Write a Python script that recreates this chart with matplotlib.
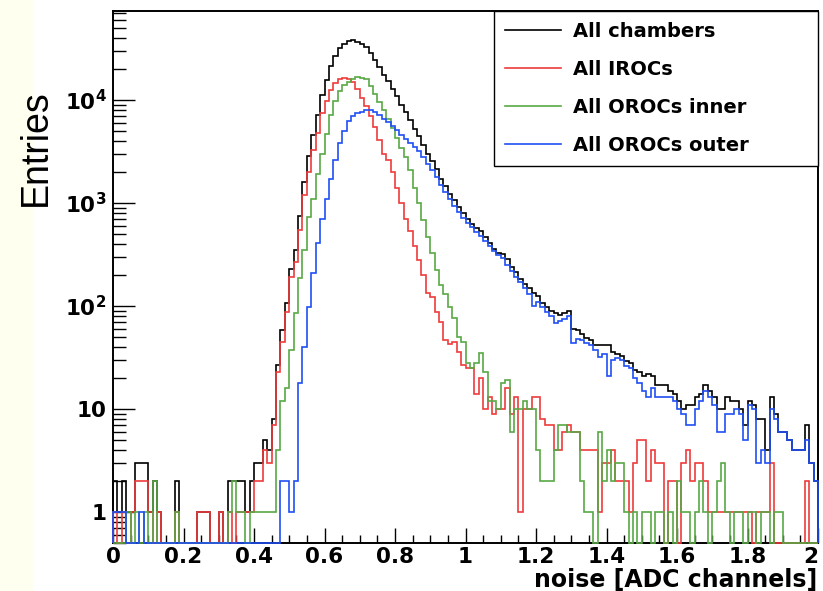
# -*- coding: utf-8 -*-
"""Noise distribution of the TPC pads, log-scale histogram (ROOT style)."""

import numpy as np
import matplotlib
matplotlib.use('Agg')
import matplotlib.pyplot as plt
from matplotlib.patches import Rectangle
from matplotlib.ticker import FixedLocator, FixedFormatter, MultipleLocator

# Histogram binning (160 bins between 0 and 2 ADC channels):
varXmin = 0.0
varXmax = 2.0
varNumBin = 160
varYmin = 0.5
varYmax = 7.3e4

lstLbl = ['All chambers', 'All IROCs', 'All OROCs inner', 'All OROCs outer']
lstClr = ['#000000', '#ee3b3b', '#58a845', '#1f4ff2']

# Bin contents:
vecAll = [
    2, 1, 2, 1, 1, 3, 3, 3, 1, 2,
    1, 0, 0, 0, 2, 0, 0, 0, 0, 1,
    1, 1, 0, 0, 1, 0, 2, 2, 2, 2,
    1, 2, 3, 3, 5, 4, 8, 27, 59, 106,
    228, 352, 755, 1590, 2828, 4560, 7110, 11100, 15600, 21400,
    26900, 31900, 35300, 37200, 37800, 36900, 34700, 32500, 28800, 24600,
    20700, 17600, 15200, 12900, 10800, 9000, 7700, 6430, 5280, 4480,
    3680, 3005, 2553, 2113, 1710, 1447, 1231, 1061, 906, 792,
    698, 630, 567, 535, 463, 410, 361, 330, 318, 285,
    240, 215, 182, 165, 148, 134, 124, 108, 97, 90,
    85, 82, 85, 90, 60, 58, 53, 49, 47, 42,
    42, 42, 42, 36, 34, 33, 29, 28, 24, 23,
    21, 22, 21, 17, 17, 17, 15, 14, 12, 10,
    11, 11, 13, 14, 17, 15, 13, 10, 10, 13,
    12, 12, 10, 7, 12, 11, 8, 8, 4, 13,
    9, 6, 6, 5, 4, 4, 4, 7, 3, 2]

vecIroc = [
    1, 0, 1, 0, 1, 2, 2, 2, 1, 0,
    1, 0, 0, 0, 1, 0, 0, 0, 0, 1,
    1, 1, 0, 0, 1, 0, 1, 0, 1, 1,
    1, 1, 2, 2, 4, 3, 7, 23, 45, 88,
    190, 265, 550, 1200, 2000, 3250, 4800, 7400, 9800, 12500,
    14500, 15800, 16300, 16000, 14800, 12800, 10500, 8800, 7000, 5500,
    4100, 3000, 2600, 2000, 1400, 1000, 700, 530, 380, 280,
    200, 135, 123, 88, 70, 47, 43, 45, 36, 27,
    25, 25, 14, 20, 10, 13, 9, 10, 10, 16,
    9, 13, 1, 10, 10, 13, 13, 8, 7, 7,
    4, 4, 6, 7, 6, 6, 4, 4, 4, 4,
    1, 3, 3, 4, 2, 2, 2, 1, 3, 5,
    5, 2, 4, 3, 3, 0, 2, 2, 0, 3,
    4, 2, 3, 3, 2, 1, 1, 1, 1, 1,
    1, 1, 1, 1, 1, 0, 1, 1, 1, 3,
    0, 0, 0, 0, 0, 0, 0, 2, 0, 0]

vecOrocIn = [
    0, 0, 0, 1, 0, 1, 0, 1, 0, 2,
    0, 0, 0, 0, 1, 0, 0, 0, 0, 0,
    0, 0, 0, 0, 0, 0, 1, 2, 1, 1,
    0, 1, 1, 1, 1, 1, 1, 4, 12, 16,
    37, 85, 187, 350, 730, 1100, 1900, 3000, 4700, 7200,
    9800, 12300, 14000, 15000, 16000, 16700, 16500, 15800, 13800, 11500,
    9500, 8000, 6500, 5300, 4300, 3400, 2800, 2100, 1400, 1000,
    680, 470, 330, 225, 160, 130, 98, 76, 50, 45,
    28, 25, 28, 35, 23, 12, 12, 10, 18, 19,
    6, 10, 10, 12, 10, 10, 4, 2, 2, 2,
    4, 7, 7, 6, 6, 6, 2, 1, 1, 0,
    6, 2, 4, 2, 3, 3, 1, 0, 1, 0,
    1, 1, 0, 1, 1, 0, 1, 0, 2, 1,
    1, 0, 1, 2, 1, 0, 1, 2, 3, 1,
    0, 1, 1, 0, 1, 1, 0, 1, 1, 0,
    1, 1, 0, 0, 0, 0, 0, 0, 0, 0]

vecOrocOut = [
    1, 1, 1, 0, 0, 0, 1, 0, 0, 0,
    0, 0, 0, 0, 0, 0, 0, 0, 0, 0,
    0, 0, 0, 0, 0, 0, 0, 0, 0, 0,
    0, 0, 0, 0, 0, 0, 0, 0, 2, 2,
    1, 2, 18, 40, 98, 210, 410, 700, 1100, 1700,
    2600, 3800, 5000, 6200, 7000, 7400, 7700, 7900, 8000, 7600,
    7100, 6600, 6100, 5600, 5100, 4600, 4200, 3800, 3500, 3200,
    2800, 2400, 2100, 1800, 1480, 1270, 1090, 940, 820, 720,
    645, 580, 525, 480, 430, 385, 340, 310, 290, 250,
    220, 190, 170, 150, 130, 100, 110, 98, 88, 80,
    68, 72, 74, 80, 44, 48, 47, 44, 42, 37,
    32, 34, 21, 30, 31, 30, 26, 25, 20, 18,
    15, 13, 16, 13, 13, 13, 13, 12, 10, 9,
    7, 7, 10, 12, 15, 13, 11, 6, 6, 9,
    9, 10, 9, 5, 11, 10, 3, 4, 3, 10,
    8, 6, 6, 5, 4, 4, 4, 5, 3, 2]

lstXtck = [0.0, 0.2, 0.4, 0.6, 0.8, 1.0, 1.2, 1.4, 1.6, 1.8, 2.0]
lstXtckLbl = ['0', '0.2', '0.4', '0.6', '0.8', '1', '1.2', '1.4', '1.6',
              '1.8', '2']
lstYtck = [1, 10, 100, 1000, 10000]
lstYtckLbl = ['1', '10', r'$10^{2}$', r'$10^{3}$', r'$10^{4}$']

# Fonts (wide bold sans, like the stretched ROOT labels):
plt.rcParams['font.family'] = ['DejaVu Sans']
plt.rcParams['font.weight'] = 'bold'
plt.rcParams['mathtext.fontset'] = 'custom'
plt.rcParams['mathtext.rm'] = 'DejaVu Sans:bold'
plt.rcParams['mathtext.it'] = 'DejaVu Sans:bold'
plt.rcParams['mathtext.bf'] = 'DejaVu Sans:bold'

varDpi = 100.0
fgr01 = plt.figure(figsize=(823.0 / varDpi, 591.0 / varDpi), dpi=varDpi)
fgr01.patch.set_facecolor('white')

# Pale slide strip on the left:
fgr01.add_artist(Rectangle((0.0, 0.0), 33.0 / 823.0, 1.0,
                           transform=fgr01.transFigure,
                           facecolor='#fffff0', edgecolor='none',
                           zorder=-5))

axs01 = fgr01.add_axes([113.0 / 823.0, 48.0 / 591.0,
                        705.0 / 823.0, 532.0 / 591.0])

# Bin edges:
vecEdg = np.linspace(varXmin, varXmax, varNumBin + 1)

# Plot histograms (empty bins drawn on the lower frame, like ROOT):
lstHst = [vecAll, vecIroc, vecOrocIn, vecOrocOut]
for idxHst in range(len(lstHst)):
    vecVal = np.array(lstHst[idxHst], dtype=np.float64)
    vecVal = np.maximum(vecVal, varYmin)
    axs01.stairs(vecVal, vecEdg,
                 baseline=varYmin,
                 color=lstClr[idxHst],
                 linewidth=1.2,
                 label=lstLbl[idxHst],
                 zorder=3,
                 clip_on=False)

axs01.set_yscale('log')
axs01.set_xlim([varXmin, varXmax])
axs01.set_ylim([varYmin, varYmax])

# Ticks:
axs01.xaxis.set_major_locator(FixedLocator(lstXtck))
axs01.xaxis.set_major_formatter(FixedFormatter(lstXtckLbl))
axs01.xaxis.set_minor_locator(MultipleLocator(0.05))
axs01.yaxis.set_major_locator(FixedLocator(lstYtck))
axs01.yaxis.set_major_formatter(FixedFormatter(lstYtckLbl))

axs01.tick_params(axis='x', which='major', direction='in', length=10.8,
                  width=1.0, labelsize=15.5, pad=3.0, top=False)
axs01.tick_params(axis='x', which='minor', direction='in', length=5.8,
                  width=1.0, top=False)
axs01.tick_params(axis='y', which='major', direction='in', length=15.8,
                  width=1.0, labelsize=15.5, pad=4.5, right=False)
axs01.tick_params(axis='y', which='minor', direction='in', length=9.4,
                  width=1.0, right=False)

# Keep the last x label inside the picture:
fgr01.canvas.draw()
lstXlblObj = axs01.get_xticklabels()
lstXlblObj[-1].set_horizontalalignment('right')

for strSpn in ['top', 'right', 'bottom', 'left']:
    axs01.spines[strSpn].set_linewidth(1.4)

# Legend box in the upper right corner:
objLgd = axs01.legend(loc='upper left',
                      bbox_to_anchor=(381.0 / 705.0, 0.0, 324.0 / 705.0, 1.0),
                      mode='expand',
                      borderaxespad=0.0,
                      fancybox=False,
                      framealpha=1.0,
                      edgecolor='black',
                      prop={'family': 'DejaVu Sans', 'weight': 'bold',
                            'size': 14},
                      borderpad=0.56,
                      labelspacing=0.98,
                      handlelength=2.9,
                      handletextpad=0.62)
objLgd.get_frame().set_linewidth(1.0)
objLgd.set_zorder(5)

# Axis titles:
fgr01.text(817.0 / 823.0, 1.0 - 587.0 / 591.0, 'noise [ADC channels]',
           ha='right', va='baseline', fontsize=17, fontweight='bold')
fgr01.text(36.0 / 823.0, 1.0 - 148.0 / 591.0, 'Entries',
           rotation=90, ha='center', va='center', fontsize=27,
           fontweight='normal', family='Liberation Sans')

fgr01.savefig('out.png', dpi=varDpi, facecolor='w')
plt.close(fgr01)
